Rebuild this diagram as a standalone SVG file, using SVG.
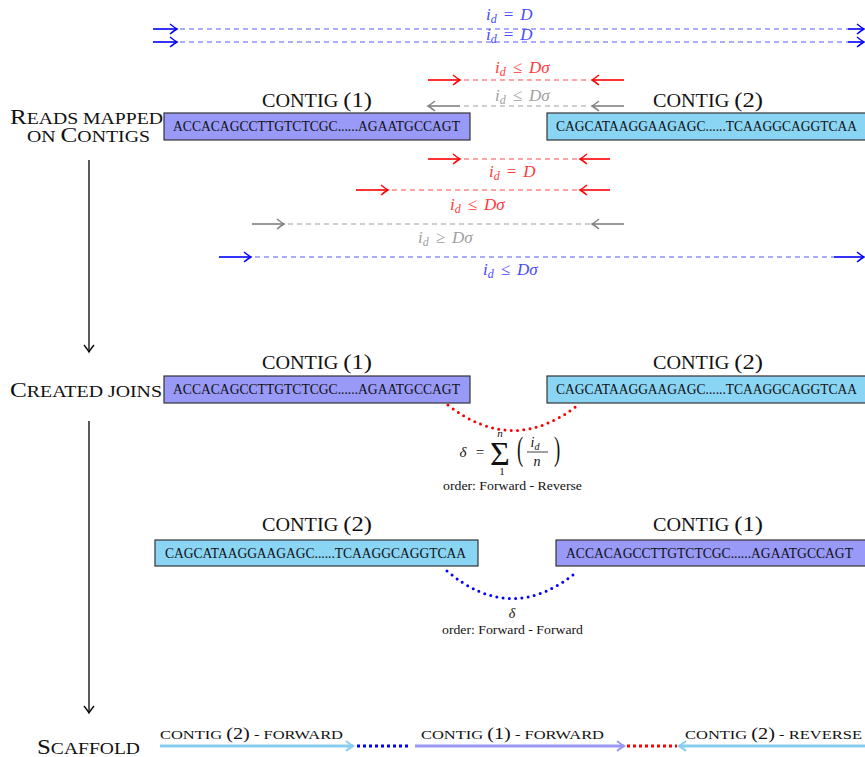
<svg xmlns="http://www.w3.org/2000/svg" width="865" height="757" viewBox="0 0 865 757">
<style>
text{font-family:"Liberation Serif","DejaVu Serif",serif;fill:#111;}
.big{font-size:21px;}
.smc{font-size:16.5px;}
.cw{font-size:18px;}
.cn{font-size:22px;}
.seq{font-size:14px;}
.m{font-size:17px;}
.i{font-style:italic;}
.sub{font-size:12px;font-style:italic;}
.cb{fill:#4a4aff;}
.cr{fill:#ff3a3a;}
.cg{fill:#a0a0a0;}
.box1{fill:#9999f8;stroke:#333;stroke-width:1.2;}
.box2{fill:#8ad4f4;stroke:#333;stroke-width:1.2;}
.sb{stroke:#0000ff;stroke-width:1.6;fill:none;}
.db{stroke:#5a5aff;stroke-width:1.2;stroke-dasharray:5 4;fill:none;}
.sr{stroke:#ff0000;stroke-width:1.6;fill:none;}
.dr{stroke:#ff4a4a;stroke-width:1.2;stroke-dasharray:5 4;fill:none;}
.sg{stroke:#808080;stroke-width:1.6;fill:none;}
.dg{stroke:#a0a0a0;stroke-width:1.2;stroke-dasharray:5 4;fill:none;}
.small{font-size:12.5px;}
.sl{font-size:13px;}
.sln{font-size:16px;}
</style>
<defs>
<marker id="ab" viewBox="-9 -7 11 14" refX="0" refY="0" markerWidth="11" markerHeight="14" orient="auto" markerUnits="userSpaceOnUse"><path d="M-7,-5 Q-2,-1 0,0 Q-2,1 -7,5" fill="none" stroke="#0000ff" stroke-width="1.4"/></marker>
<marker id="ar" viewBox="-9 -7 11 14" refX="0" refY="0" markerWidth="11" markerHeight="14" orient="auto" markerUnits="userSpaceOnUse"><path d="M-7,-5 Q-2,-1 0,0 Q-2,1 -7,5" fill="none" stroke="#ff0000" stroke-width="1.4"/></marker>
<marker id="ag" viewBox="-9 -7 11 14" refX="0" refY="0" markerWidth="11" markerHeight="14" orient="auto" markerUnits="userSpaceOnUse"><path d="M-7,-5 Q-2,-1 0,0 Q-2,1 -7,5" fill="none" stroke="#808080" stroke-width="1.4"/></marker>
<marker id="ak" viewBox="-9 -7 11 14" refX="0" refY="0" markerWidth="11" markerHeight="14" orient="auto" markerUnits="userSpaceOnUse"><path d="M-7,-5 Q-2,-1 0,0 Q-2,1 -7,5" fill="none" stroke="#000" stroke-width="1.3"/></marker>
<marker id="alb" viewBox="-9 -7 11 14" refX="0" refY="0" markerWidth="11" markerHeight="14" orient="auto" markerUnits="userSpaceOnUse"><path d="M-7,-5 Q-2,-1 0,0 Q-2,1 -7,5" fill="none" stroke="#87cdf2" stroke-width="2"/></marker>
<marker id="alv" viewBox="-9 -7 11 14" refX="0" refY="0" markerWidth="11" markerHeight="14" orient="auto" markerUnits="userSpaceOnUse"><path d="M-7,-5 Q-2,-1 0,0 Q-2,1 -7,5" fill="none" stroke="#9a9af5" stroke-width="2"/></marker>
</defs>

<!-- stage labels -->
<g id="stage-reads">
<text x="10" y="124" textLength="153" lengthAdjust="spacingAndGlyphs"><tspan class="big">R</tspan><tspan class="smc">EADS MAPPED</tspan></text>
<text x="27" y="142" textLength="123" lengthAdjust="spacingAndGlyphs"><tspan class="smc">ON </tspan><tspan class="big">C</tspan><tspan class="smc">ONTIGS</tspan></text>
</g>
<g id="stage-joins"><text x="10" y="397" textLength="152" lengthAdjust="spacingAndGlyphs"><tspan class="big">C</tspan><tspan class="smc">REATED JOINS</tspan></text></g>
<g id="stage-scaffold"><text x="37" y="754" textLength="103" lengthAdjust="spacingAndGlyphs"><tspan class="big">S</tspan><tspan class="smc">CAFFOLD</tspan></text></g>

<!-- contigs row 1 -->
<g id="contig1-a">
<text x="262" y="107" textLength="110" lengthAdjust="spacingAndGlyphs"><tspan class="cw">CONTIG </tspan><tspan class="cn">(1)</tspan></text>
<rect class="box1" x="164" y="113" width="306" height="27"/>
<text class="seq" x="173" y="131" textLength="287" lengthAdjust="spacingAndGlyphs">ACCACAGCCTTGTCTCGC......AGAATGCCAGT</text>
</g>
<g id="contig2-a">
<text x="653" y="107" textLength="110" lengthAdjust="spacingAndGlyphs"><tspan class="cw">CONTIG </tspan><tspan class="cn">(2)</tspan></text>
<rect class="box2" x="547" y="113" width="320" height="27"/>
<text class="seq" x="556" y="131" textLength="301" lengthAdjust="spacingAndGlyphs">CAGCATAAGGAAGAGC......TCAAGGCAGGTCAA</text>
</g>

<!-- contigs row 2 -->
<g id="contig1-b">
<text x="262" y="369" textLength="110" lengthAdjust="spacingAndGlyphs"><tspan class="cw">CONTIG </tspan><tspan class="cn">(1)</tspan></text>
<rect class="box1" x="164" y="376" width="306" height="27"/>
<text class="seq" x="173" y="394" textLength="287" lengthAdjust="spacingAndGlyphs">ACCACAGCCTTGTCTCGC......AGAATGCCAGT</text>
</g>
<g id="contig2-b">
<text x="653" y="369" textLength="110" lengthAdjust="spacingAndGlyphs"><tspan class="cw">CONTIG </tspan><tspan class="cn">(2)</tspan></text>
<rect class="box2" x="547" y="376" width="320" height="27"/>
<text class="seq" x="556" y="394" textLength="301" lengthAdjust="spacingAndGlyphs">CAGCATAAGGAAGAGC......TCAAGGCAGGTCAA</text>
</g>

<!-- contigs row 3 -->
<g id="contig2-c">
<text x="262" y="531" textLength="110" lengthAdjust="spacingAndGlyphs"><tspan class="cw">CONTIG </tspan><tspan class="cn">(2)</tspan></text>
<rect class="box2" x="155" y="540" width="323" height="26"/>
<text class="seq" x="165" y="558" textLength="301" lengthAdjust="spacingAndGlyphs">CAGCATAAGGAAGAGC......TCAAGGCAGGTCAA</text>
</g>
<g id="contig1-c">
<text x="653" y="531" textLength="110" lengthAdjust="spacingAndGlyphs"><tspan class="cw">CONTIG </tspan><tspan class="cn">(1)</tspan></text>
<rect class="box1" x="556" y="540" width="311" height="26"/>
<text class="seq" x="566" y="558" textLength="287" lengthAdjust="spacingAndGlyphs">ACCACAGCCTTGTCTCGC......AGAATGCCAGT</text>
</g>

<!-- join labels -->
<g id="join-fr-label">
<text x="463" y="457" font-size="15" class="i" text-anchor="middle">δ</text>
<text x="480" y="457" font-size="15" text-anchor="middle">=</text>
<text x="500" y="465" font-size="34" text-anchor="middle">Σ</text>
<text x="500" y="437" font-size="11" class="i" text-anchor="middle">n</text>
<text x="502" y="475" font-size="11" text-anchor="middle">1</text>
<text x="520" y="460" font-size="34" text-anchor="middle" transform="translate(520 452) scale(0.55 1) translate(-520 -452)">(</text>
<text x="535" y="447" font-size="14" text-anchor="middle"><tspan class="i">i</tspan><tspan class="i" font-size="10" dy="3">d</tspan></text>
<line x1="527" y1="452" x2="548" y2="452" stroke="#111" stroke-width="0.8"/>
<text x="537" y="466" font-size="14" class="i" text-anchor="middle">n</text>
<text x="557" y="460" font-size="34" text-anchor="middle" transform="translate(557 452) scale(0.55 1) translate(-557 -452)">)</text>
<text class="small" x="443" y="490" textLength="139" lengthAdjust="spacingAndGlyphs">order: Forward - Reverse</text>
</g>
<g id="join-ff-label">
<text x="512" y="618" font-size="14" class="i" text-anchor="middle">δ</text>
<text class="small" x="442" y="634" textLength="141" lengthAdjust="spacingAndGlyphs">order: Forward - Forward</text>
</g>

<!-- scaffold labels -->
<g id="scaffold-labels">
<text x="160" y="739" textLength="183" lengthAdjust="spacingAndGlyphs"><tspan class="sl">CONTIG </tspan><tspan class="sln">(2)</tspan><tspan class="sl"> - FORWARD</tspan></text>
<text x="421" y="739" textLength="183" lengthAdjust="spacingAndGlyphs"><tspan class="sl">CONTIG </tspan><tspan class="sln">(1)</tspan><tspan class="sl"> - FORWARD</tspan></text>
<text x="685" y="739" textLength="177" lengthAdjust="spacingAndGlyphs"><tspan class="sl">CONTIG </tspan><tspan class="sln">(2)</tspan><tspan class="sl"> - REVERSE</tspan></text>
</g>

<!-- read labels -->
<g id="read-labels">
<text class="m cb" x="486" y="20"><tspan class="i">i</tspan><tspan class="sub" dy="3">d</tspan><tspan dx="7" dy="-3">=</tspan><tspan class="i" dx="7">D</tspan></text>
<text class="m cb" x="486" y="40"><tspan class="i">i</tspan><tspan class="sub" dy="3">d</tspan><tspan dx="7" dy="-3">=</tspan><tspan class="i" dx="7">D</tspan></text>
<text class="m cr" x="495" y="73"><tspan class="i">i</tspan><tspan class="sub" dy="3">d</tspan><tspan dx="7" dy="-3">≤</tspan><tspan class="i" dx="7">Dσ</tspan></text>
<text class="m cg" x="495" y="101"><tspan class="i">i</tspan><tspan class="sub" dy="3">d</tspan><tspan dx="7" dy="-3">≤</tspan><tspan class="i" dx="7">Dσ</tspan></text>
<text class="m cr" x="489" y="177"><tspan class="i">i</tspan><tspan class="sub" dy="3">d</tspan><tspan dx="7" dy="-3">=</tspan><tspan class="i" dx="7">D</tspan></text>
<text class="m cr" x="450" y="210"><tspan class="i">i</tspan><tspan class="sub" dy="3">d</tspan><tspan dx="7" dy="-3">≤</tspan><tspan class="i" dx="7">Dσ</tspan></text>
<text class="m cg" x="418" y="243"><tspan class="i">i</tspan><tspan class="sub" dy="3">d</tspan><tspan dx="7" dy="-3">≥</tspan><tspan class="i" dx="7">Dσ</tspan></text>
<text class="m cb" x="483" y="275"><tspan class="i">i</tspan><tspan class="sub" dy="3">d</tspan><tspan dx="7" dy="-3">≤</tspan><tspan class="i" dx="7">Dσ</tspan></text>
</g>

<!-- connectors -->
<g id="connectors">
<line class="sb" x1="153" y1="29" x2="177" y2="29" marker-end="url(#ab)"/>
<line class="db" x1="180" y1="29" x2="848" y2="29"/>
<line class="sb" x1="848" y1="29" x2="864" y2="29" marker-end="url(#ab)"/>
<line class="sb" x1="153" y1="42" x2="177" y2="42" marker-end="url(#ab)"/>
<line class="db" x1="180" y1="42" x2="848" y2="42"/>
<line class="sb" x1="848" y1="42" x2="864" y2="42" marker-end="url(#ab)"/>
<line class="sr" x1="428" y1="80" x2="460" y2="80" marker-end="url(#ar)"/>
<line class="dr" x1="464" y1="80" x2="590" y2="80"/>
<line class="sr" x1="624" y1="80" x2="592" y2="80" marker-end="url(#ar)"/>
<line class="sg" x1="460" y1="106" x2="428" y2="106" marker-end="url(#ag)"/>
<line class="dg" x1="464" y1="106" x2="590" y2="106"/>
<line class="sg" x1="624" y1="106" x2="592" y2="106" marker-end="url(#ag)"/>
<line class="sr" x1="428" y1="159" x2="460" y2="159" marker-end="url(#ar)"/>
<line class="dr" x1="464" y1="159" x2="578" y2="159"/>
<line class="sr" x1="610" y1="159" x2="580" y2="159" marker-end="url(#ar)"/>
<line class="sr" x1="356" y1="190" x2="388" y2="190" marker-end="url(#ar)"/>
<line class="dr" x1="392" y1="190" x2="578" y2="190"/>
<line class="sr" x1="610" y1="190" x2="580" y2="190" marker-end="url(#ar)"/>
<line class="sg" x1="252" y1="224" x2="284" y2="224" marker-end="url(#ag)"/>
<line class="dg" x1="288" y1="224" x2="590" y2="224"/>
<line class="sg" x1="624" y1="224" x2="592" y2="224" marker-end="url(#ag)"/>
<line class="sb" x1="219" y1="257" x2="251" y2="257" marker-end="url(#ab)"/>
<line class="db" x1="255" y1="257" x2="834" y2="257"/>
<line class="sb" x1="834" y1="257" x2="864" y2="257" marker-end="url(#ab)"/>
<line x1="89" y1="160" x2="89" y2="352" stroke="#000" stroke-width="1.3" marker-end="url(#ak)"/>
<line x1="89" y1="421" x2="89" y2="713" stroke="#000" stroke-width="1.3" marker-end="url(#ak)"/>
<path d="M448,405 Q513,456 578,405" fill="none" stroke="#ff0000" stroke-width="3" stroke-linecap="round" stroke-dasharray="0 6.3"/>
<path d="M447,571 Q512,626 578,571" fill="none" stroke="#0000ff" stroke-width="3" stroke-linecap="round" stroke-dasharray="0 6.3"/>
<line x1="160" y1="746" x2="353" y2="746" stroke="#87cdf2" stroke-width="3" marker-end="url(#alb)"/>
<line x1="357" y1="746" x2="411" y2="746" stroke="#0000ff" stroke-width="3" stroke-dasharray="3 3"/>
<line x1="415" y1="746" x2="624" y2="746" stroke="#9a9af5" stroke-width="3" marker-end="url(#alv)"/>
<line x1="627" y1="746" x2="677" y2="746" stroke="#ff0000" stroke-width="3" stroke-dasharray="3 3"/>
<line x1="865" y1="746" x2="679" y2="746" stroke="#87cdf2" stroke-width="3" marker-end="url(#alb)"/>
</g>
</svg>
